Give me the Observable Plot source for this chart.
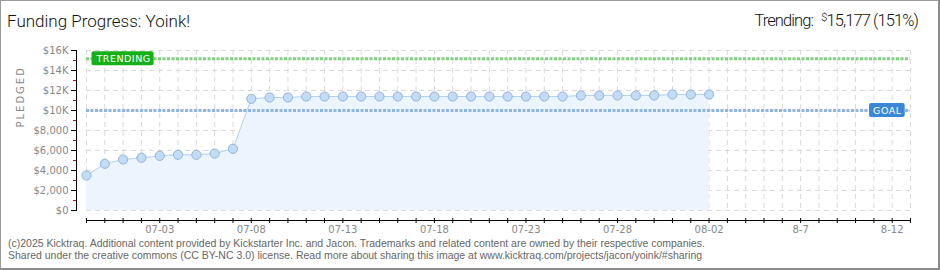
<!DOCTYPE html>
<html>
<head>
<meta charset="utf-8">
<script src="https://cdn.jsdelivr.net/npm/d3@7"></script>
<script src="https://cdn.jsdelivr.net/npm/@observablehq/plot@0.6"></script>
<style>
  html, body { margin: 0; padding: 0; background: #fff; }
  #card { position: relative; width: 940px; height: 270px; overflow: hidden; }
  #border { position: absolute; left: 0; top: 0; width: 940px; height: 270px; box-sizing: border-box;
            border-left: 1px solid #9a9a9a; border-top: 1px solid #9a9a9a;
            border-right: 2px solid #8a8a8a; border-bottom: 2px solid #8a8a8a; }
  #chart { position: absolute; left: 0; top: 0; }
  .title { position: absolute; top: 11px; font-family: Roboto, sans-serif; font-weight: 300;
           font-size: 17px; color: #111; white-space: nowrap; }
  #title { left: 7px; }
  #trend { right: 22px; font-size: 16.5px; letter-spacing: -0.9px; }
  #trend sup { font-size: 11px; vertical-align: 5px; margin-left: 5px; }
  #footer { position: absolute; left: 8px; top: 237px; font-family: "Liberation Sans", sans-serif;
            font-size: 10.5px; line-height: 12px; color: #666; white-space: nowrap; }
</style>
</head>
<body>
<div id="card">
  <div id="border"></div>
  <div id="chart"></div>
  <div class="title" id="title">Funding Progress: Yoink!</div>
  <div class="title" id="trend">Trending: <sup>$</sup>15,177 (151%)</div>
  <div id="footer">(c)2025 Kicktraq. Additional content provided by Kickstarter Inc. and Jacon. Trademarks and related content are owned by their respective companies.<br>Shared under the creative commons (CC BY-NC 3.0) license. Read more about sharing this image at www.kicktraq.com/projects/jacon/yoink/#sharing</div>
</div>
<script>
// Daily pledge totals, 2025-06-29 through 2025-08-02
const dates = [
  "2025-06-29","2025-06-30","2025-07-01","2025-07-02","2025-07-03","2025-07-04","2025-07-05",
  "2025-07-06","2025-07-07","2025-07-08","2025-07-09","2025-07-10","2025-07-11","2025-07-12",
  "2025-07-13","2025-07-14","2025-07-15","2025-07-16","2025-07-17","2025-07-18","2025-07-19",
  "2025-07-20","2025-07-21","2025-07-22","2025-07-23","2025-07-24","2025-07-25","2025-07-26",
  "2025-07-27","2025-07-28","2025-07-29","2025-07-30","2025-07-31","2025-08-01","2025-08-02"
];
const pledged = [
  3500, 4670, 5100, 5270, 5470, 5570, 5570,
  5700, 6170, 11170, 11300, 11300, 11400, 11400,
  11400, 11400, 11400, 11400, 11400, 11400, 11400,
  11400, 11400, 11400, 11400, 11400, 11400, 11500,
  11500, 11500, 11500, 11500, 11600, 11600, 11600
];
const goal = 10000;
const trending = 15177;

// Campaign window shown on the x axis
const xStart = "2025-06-29";
const xEnd = "2025-08-13";
const xLabelDates = ["2025-07-03","2025-07-08","2025-07-13","2025-07-18","2025-07-23","2025-07-28","2025-08-02","2025-08-07","2025-08-12"];
const xLabels = ["07-03","07-08","07-13","07-18","07-23","07-28","08-02","8-7","8-12"];

const yMajor = [0, 2000, 4000, 6000, 8000, 10000, 12000, 14000, 16000];
const yLabels = ["$0","$2,000","$4,000","$6,000","$8,000","$10K","$12K","$14K","$16K"];
const yMinor = [1000, 3000, 5000, 7000, 9000, 11000, 13000, 15000];

const rows = dates.map((d, i) => ({date: new Date(d), pledged: pledged[i]}));
const d0 = new Date(xStart), d1 = new Date(xEnd);
const days = d3.utcDay.range(d0, d3.utcDay.offset(d1, 1));
const labelDates = xLabelDates.map(d => new Date(d));

const yLabelOf = new Map(yMajor.map((v, i) => [v, yLabels[i]]));
const xLabelOf = new Map(labelDates.map((d, i) => [+d, xLabels[i]]));

const tickFont = {fontFamily: "DejaVu Sans, sans-serif"};

const chart = Plot.plot({
  width: 940,
  height: 270,
  marginTop: 50,
  marginBottom: 60,
  marginLeft: 86,
  marginRight: 30,
  style: {background: "transparent", fontFamily: "DejaVu Sans, sans-serif", fontSize: "10px", color: "#888"},
  x: {type: "utc", domain: [d0, d1]},
  y: {domain: [0, 16000]},
  marks: [
    Plot.gridY(yMajor, {stroke: "#dadada", strokeOpacity: 1, strokeDasharray: "5,4"}),
    Plot.gridX(days, {stroke: "#dadada", strokeOpacity: 1, strokeDasharray: "5,4"}),
    Plot.areaY(rows, {x: "date", y: "pledged", fill: "#ecf4fd"}),
    Plot.ruleY([goal], {stroke: "#8fb6e2", strokeWidth: 3, strokeDasharray: "3,1.5"}),
    Plot.ruleY([trending], {stroke: "#7fd27f", strokeWidth: 3, strokeDasharray: "3,1.5"}),
    Plot.lineY(rows, {x: "date", y: "pledged", stroke: "#b3d3f4", strokeWidth: 1}),
    Plot.dot(rows, {x: "date", y: "pledged", r: 4.6, fill: "#c3dcf6", stroke: "#93b3d8", strokeWidth: 1}),
    // axis lines, set off from the plotting area
    Plot.frame({anchor: "left", dx: -10, stroke: "#000"}),
    Plot.frame({anchor: "bottom", dy: 10, stroke: "#000"}),
    Plot.axisY(yMajor, {tickSize: 5, dx: -10, tickPadding: 3, stroke: "#000", fill: "#888",
      tickFormat: d => yLabelOf.get(d), label: null, ...tickFont}),
    Plot.axisY(yMinor, {tickSize: 3, dx: -10, stroke: "#e00000", tickFormat: () => "", label: null}),
    Plot.axisX(days, {tickSize: 5, dy: 8, stroke: "#000", tickFormat: () => "", label: null}),
    Plot.axisX(labelDates, {tickSize: 0, dy: 13, tickPadding: 2, fill: "#888",
      tickFormat: d => xLabelOf.get(+d), label: null, ...tickFont}),
    Plot.text(["PLEDGED"], {frameAnchor: "left", dx: -66, dy: -3, rotate: -90, fill: "#888", fontSize: 10}),
    Plot.text([trending], {x: () => d0, y: d => d, text: () => "TRENDING", dx: 10, textAnchor: "start",
      fill: "#fff", fontSize: 9.5}),
    Plot.text([goal], {x: () => d1, y: d => d, text: () => "GOAL", dx: -9, textAnchor: "end",
      fill: "#fff", fontSize: 9.5})
  ]
});

document.getElementById("chart").appendChild(chart);

// Axis title gets wider letter spacing
d3.select(chart).selectAll("text").filter(function () { return this.textContent === "PLEDGED"; })
  .attr("letter-spacing", 2);

// Rounded badges behind the reference-line labels
const badge = {TRENDING: "#18b018", GOAL: "#3b87d6"};
d3.select(chart).selectAll("text").each(function () {
  const t = this.textContent;
  if (!(t in badge)) return;
  this.setAttribute("letter-spacing", "0.5");
  const b = this.getBBox();
  const r = document.createElementNS("http://www.w3.org/2000/svg", "rect");
  r.setAttribute("x", b.x - 4);
  r.setAttribute("y", b.y - 1.5);
  r.setAttribute("width", b.width + 7);
  r.setAttribute("height", b.height + 3);
  r.setAttribute("rx", 2);
  r.setAttribute("fill", badge[t]);
  const tr = this.getAttribute("transform");
  if (tr) r.setAttribute("transform", tr);
  this.parentNode.insertBefore(r, this);
});
</script>
</body>
</html>
